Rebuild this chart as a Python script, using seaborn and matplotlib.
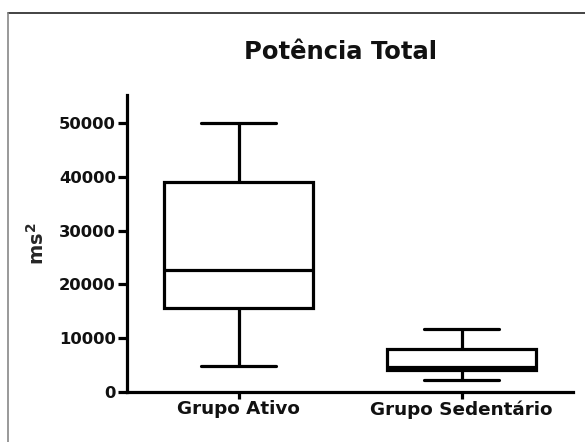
import matplotlib
matplotlib.use("Agg")
import matplotlib.pyplot as plt
from matplotlib.lines import Line2D
import seaborn as sns
import pandas as pd

# Five-number summaries (min, Q1, median, Q3, max) per group, in ms²
groups = ["Grupo Ativo", "Grupo Sedentário"]
ativo = [4800, 15600, 22600, 39000, 50000]
sedentario = [2300, 4000, 4700, 8000, 11800]
yticks = [0, 10000, 20000, 30000, 40000, 50000]

df = pd.DataFrame({
    "grupo": [groups[0]] * len(ativo) + [groups[1]] * len(sedentario),
    "valor": ativo + sedentario,
})

sns.set_theme(style="ticks")
plt.rcParams["font.family"] = ["DejaVu Sans"]
plt.rcParams["font.weight"] = "bold"

fig = plt.figure(figsize=(5.85, 4.42), dpi=100)
ax = fig.add_axes([127 / 585, 1 - 392 / 442, (573 - 127) / 585, (392 - 95) / 442])

sns.boxplot(data=df, x="grupo", y="valor", order=groups, ax=ax,
            color="white", linecolor="black", linewidth=2.3,
            whis=(0, 100), width=0.67, fliersize=0)

ax.set_xlim(-0.5, 1.5)
ax.set_ylim(0, 55200)
ax.set_yticks(yticks)
ax.set_yticklabels([str(v) for v in yticks])
ax.tick_params(axis="both", direction="out", width=2.3, color="black",
               labelcolor="#111111")
ax.tick_params(axis="y", length=6.5, labelsize=11.8, pad=1.5)
ax.tick_params(axis="x", length=5, labelsize=13.2, pad=1)
for lab in ax.get_xticklabels() + ax.get_yticklabels():
    lab.set_fontweight("bold")
ax.set_xlabel("")
ax.set_ylabel("ms$^\\mathbf{2}$", fontsize=14, fontweight="bold", labelpad=8)
for side in ("top", "right"):
    ax.spines[side].set_visible(False)
for side in ("left", "bottom"):
    ax.spines[side].set_linewidth(2.3)
    ax.spines[side].set_color("black")

fig.text(340 / 585, 1 - 52 / 442, "Potência Total", ha="center", va="center",
         fontsize=17.5, fontweight="bold", color="#111111")

# Outer panel frame (top and left edges)
fig.add_artist(Line2D([8 / 585, 1.0], [1 - 13 / 442, 1 - 13 / 442],
                      transform=fig.transFigure, color="#222222", lw=1.2))
fig.add_artist(Line2D([8 / 585, 8 / 585], [0, 1 - 13 / 442],
                      transform=fig.transFigure, color="#888888", lw=1.2))

fig.savefig("out.png", dpi=100)
